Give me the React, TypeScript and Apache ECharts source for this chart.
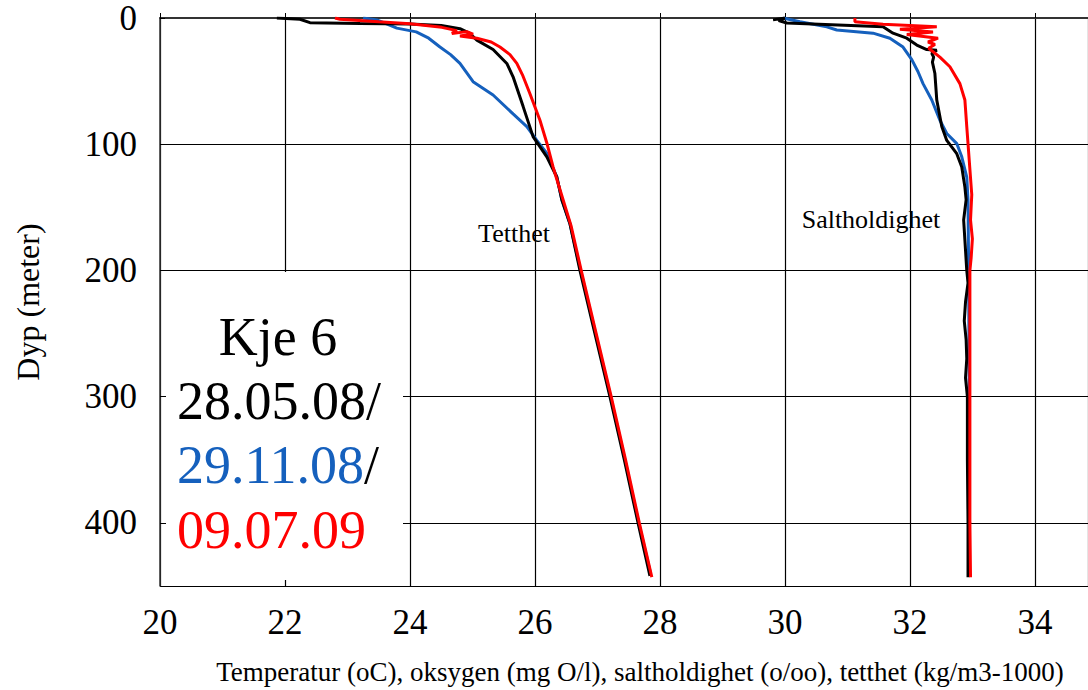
import React, { useEffect, useRef } from "react";
import * as echarts from "echarts";

// depth profiles: [value, depth (m)]
const densityMay08: number[][] = [
  [21.87, 0], [22.24, 1], [22.4, 3.7], [23.2, 4.3], [24.0, 4.8], [24.5, 6], [24.8, 8.5],
  [24.95, 12], [25.07, 17.5], [25.33, 25], [25.55, 36], [25.65, 46.6], [25.81, 70],
  [25.97, 94], [26.19, 110], [26.35, 126], [26.43, 144], [26.56, 163], [26.72, 200],
  [26.96, 250], [27.2, 300], [27.43, 350], [27.65, 400], [27.84, 442],
];
const densityNov08: number[][] = [
  [23.25, 0], [23.47, 1.5], [23.79, 8], [24.1, 11], [24.3, 16], [24.48, 23], [24.65, 29],
  [24.8, 36], [25.01, 50.5], [25.33, 61], [25.65, 76], [25.87, 86], [26.03, 97],
  [26.19, 107], [26.35, 126], [26.43, 144], [26.56, 163], [26.73, 200], [26.97, 250],
  [27.21, 300], [27.44, 350], [27.66, 400], [27.85, 440],
];
const densityJul09: number[][] = [
  [22.8, 0], [22.88, 1], [23.5, 3], [24.0, 4.5], [24.51, 7.4], [24.75, 10], [24.67, 12.2],
  [24.91, 10.8], [25.01, 12.7], [24.8, 14.3], [25.07, 16], [25.3, 19], [25.44, 23],
  [25.6, 29], [25.71, 36], [25.8, 45], [25.92, 60], [26.08, 81], [26.19, 99], [26.29, 118],
  [26.45, 144], [26.58, 165], [26.74, 200], [26.98, 250], [27.22, 300], [27.45, 350],
  [27.67, 400], [27.87, 443],
];
const salinityMay08: number[][] = [
  [29.81, 1.5], [30.0, 0], [29.9, 2], [30.03, 4], [31.57, 7], [31.73, 12], [31.95, 16],
  [32.11, 21.4], [32.27, 25], [32.43, 25.5], [32.35, 28], [32.38, 31], [32.36, 35],
  [32.4, 44], [32.43, 65], [32.51, 86], [32.59, 97], [32.75, 107.5], [32.83, 118],
  [32.88, 134], [32.9, 144], [32.86, 160], [32.91, 200], [32.93, 210], [32.89, 225],
  [32.87, 240], [32.9, 255], [32.91, 270], [32.89, 285], [32.92, 300], [32.92, 350],
  [32.93, 400], [32.93, 443],
];
const salinityNov08: number[][] = [
  [29.97, 0], [30.24, 3], [30.67, 7], [30.83, 9.5], [31.41, 12], [31.68, 16], [31.89, 23],
  [32.03, 33], [32.13, 42.6], [32.21, 52], [32.35, 65], [32.48, 81], [32.59, 91.5],
  [32.75, 99.5], [32.83, 110], [32.91, 126], [32.93, 144], [32.94, 200], [32.95, 300],
  [32.95, 400], [32.95, 440],
];
const salinityJul09: number[][] = [
  [31.12, 0], [31.12, 3], [31.57, 5], [32.43, 7], [31.84, 9], [32.37, 11], [31.95, 13],
  [32.45, 16], [32.29, 19], [32.4, 21], [32.3, 24], [32.48, 31], [32.64, 38.6], [32.8, 52],
  [32.88, 65], [32.91, 86], [32.93, 99.5], [32.96, 120], [32.99, 140], [32.97, 160],
  [33.0, 175], [32.98, 190], [32.96, 200], [32.96, 300], [32.96, 400], [32.97, 443],
];

const COLOR_MAY08 = "#000000";
const COLOR_NOV08 = "#1560BD";
const COLOR_JUL09 = "#FF0000";
const SERIF = "'Times New Roman', 'Liberation Serif', serif";

export default function App() {
  const ref = useRef<HTMLDivElement>(null);
  useEffect(() => {
    if (!ref.current) return;
    const chart = echarts.init(ref.current, undefined, { renderer: "svg" });
    const line = (name: string, data: number[][], color: string, width = 3) => ({
      name,
      type: "line",
      data,
      showSymbol: false,
      symbol: "none",
      lineStyle: { color, width },
      z: 3,
    });
    chart.setOption({
      animation: false,
      backgroundColor: "#ffffff",
      grid: { left: 160, top: 18, right: 0, bottom: 104, outerBoundsMode: "none", containLabel: false },
      xAxis: {
        type: "value",
        min: 20,
        max: 34.85,
        interval: 2,
        name: "Temperatur (oC), oksygen (mg O/l), saltholdighet (o/oo), tetthet (kg/m3-1000)",
        nameLocation: "middle",
        nameGap: 72,
        nameTextStyle: { fontFamily: SERIF, fontSize: 27, color: "#000", padding: [0, 0, 0, 32] },
        axisLine: { show: true, lineStyle: { color: "#333", width: 2 } },
        axisTick: { show: true, inside: true, length: 5, lineStyle: { color: "#000" } },
        axisLabel: {
          showMaxLabel: false,
          margin: 19,
          fontFamily: SERIF,
          fontSize: 35,
          color: "#000",
          formatter: (v: number) => (Math.abs(v % 2) < 1e-6 ? String(v) : ""),
        },
        splitLine: { show: true, lineStyle: { color: "#000", width: 1.2 } },
      },
      yAxis: {
        type: "value",
        inverse: true,
        min: 0,
        max: 450,
        interval: 100,
        name: "Dyp (meter)",
        nameLocation: "middle",
        nameGap: 116,
        nameRotate: 90,
        nameTextStyle: { fontFamily: SERIF, fontSize: 32, color: "#000" },
        axisLine: { show: true, lineStyle: { color: "#333", width: 1.5 } },
        axisTick: { show: true, inside: true, length: 5, lineStyle: { color: "#000" } },
        axisLabel: {
          showMaxLabel: false,
          margin: 23,
          fontFamily: SERIF,
          fontSize: 35,
          color: "#000",
        },
        splitLine: { show: true, lineStyle: { color: "#000", width: 1.2 } },
      },
      series: [
        line("Tetthet 29.11.08", densityNov08, COLOR_NOV08),
        line("Tetthet 28.05.08", densityMay08, COLOR_MAY08),
        line("Tetthet 09.07.09", densityJul09, COLOR_JUL09),
        line("Saltholdighet 29.11.08", salinityNov08, COLOR_NOV08),
        line("Saltholdighet 28.05.08", salinityMay08, COLOR_MAY08),
        line("Saltholdighet 09.07.09", salinityJul09, COLOR_JUL09),
      ],
      graphic: [
        {
          type: "rect",
          z: 50,
          shape: { x: 166, y: 272, width: 237, height: 308 },
          style: { fill: "#ffffff" },
        },
        {
          type: "text",
          z: 51,
          x: 278,
          y: 337,
          style: { text: "Kje 6", fill: "#000", font: `54px ${SERIF}`, align: "center", verticalAlign: "middle" },
        },
        {
          type: "text",
          z: 51,
          x: 177,
          y: 401,
          style: { text: "28.05.08/", fill: COLOR_MAY08, font: `54px ${SERIF}`, align: "left", verticalAlign: "middle" },
        },
        {
          type: "text",
          z: 51,
          x: 177,
          y: 465,
          style: {
            text: "{b|29.11.08}{k|/}",
            font: `54px ${SERIF}`,
            align: "left",
            verticalAlign: "middle",
            rich: {
              b: { fill: COLOR_NOV08, font: `54px ${SERIF}` },
              k: { fill: "#000", font: `54px ${SERIF}` },
            },
          },
        },
        {
          type: "text",
          z: 51,
          x: 177,
          y: 530,
          style: { text: "09.07.09", fill: COLOR_JUL09, font: `54px ${SERIF}`, align: "left", verticalAlign: "middle" },
        },
        {
          type: "text",
          z: 51,
          x: 514,
          y: 233,
          style: { text: "Tetthet", fill: "#000", font: `26px ${SERIF}`, align: "center", verticalAlign: "middle" },
        },
        {
          type: "text",
          z: 51,
          x: 871,
          y: 219,
          style: { text: "Saltholdighet", fill: "#000", font: `26px ${SERIF}`, align: "center", verticalAlign: "middle" },
        },
      ],
    });
    return () => chart.dispose();
  }, []);
  return (
    <div
      ref={ref}
      style={{ position: "fixed", left: 0, top: 0, width: 1088, height: 690, background: "#fff" }}
    />
  );
}
